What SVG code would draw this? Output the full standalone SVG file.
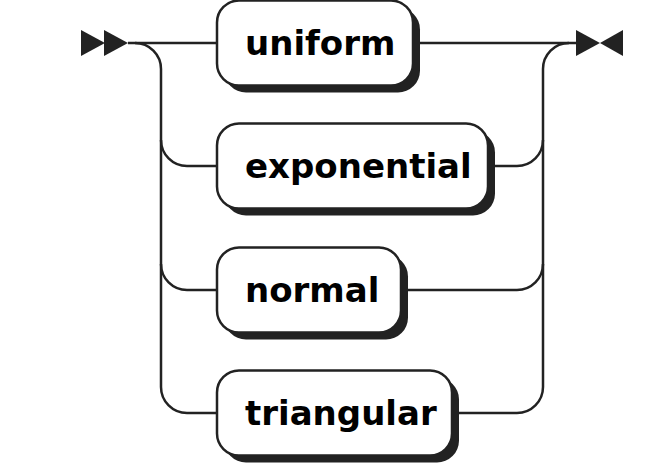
<svg xmlns="http://www.w3.org/2000/svg" width="670" height="471" viewBox="0 0 670 471">
<style>
.line{fill:none;stroke:#222;stroke-width:2.5}
.arrow{fill:#222;stroke:none}
.shadow{fill:#222;stroke:none}
.box{fill:#fff;stroke:#222;stroke-width:2.5}
.label{font-family:"DejaVu Sans",sans-serif;font-weight:bold;font-size:34px;fill:#000}
</style>
<rect width="670" height="471" fill="#fff"/>
<g id="connectors">
<path class="line" d="M128,43 H217"/>
<path class="line" d="M135,43 A26,26 0 0 1 161,69 V387 A26,26 0 0 0 187,413 H217"/>
<path class="line" d="M161,140 A26,26 0 0 0 187,166 H217"/>
<path class="line" d="M161,264 A26,26 0 0 0 187,290 H217"/>
<path class="line" d="M413,43 H578"/>
<path class="line" d="M452,413 H517 A26,26 0 0 0 543,387 V69 A26,26 0 0 1 569,43"/>
<path class="line" d="M488,166 H517 A26,26 0 0 0 543,140"/>
<path class="line" d="M401,290 H517 A26,26 0 0 0 543,264"/>
</g>
<g id="start">
<polygon class="arrow" points="81,30 105,43 81,56"/>
<polygon class="arrow" points="104,30 128,43 104,56"/>
</g>
<g id="end">
<polygon class="arrow" points="576,30 600,43 576,56"/>
<polygon class="arrow" points="623,30 600,43 623,56"/>
</g>
<g id="uniform">
<rect class="shadow" x="224" y="7.5" width="196" height="85" rx="22"/>
<rect class="box" x="217" y="0.5" width="196" height="85" rx="22"/>
<text class="label" x="245" y="55">uniform</text>
</g>
<g id="exponential">
<rect class="shadow" x="224" y="130.5" width="271" height="85" rx="22"/>
<rect class="box" x="217" y="123.5" width="271" height="85" rx="22"/>
<text class="label" x="245" y="178">exponential</text>
</g>
<g id="normal">
<rect class="shadow" x="224" y="254.5" width="184" height="85" rx="22"/>
<rect class="box" x="217" y="247.5" width="184" height="85" rx="22"/>
<text class="label" x="245" y="302">normal</text>
</g>
<g id="triangular">
<rect class="shadow" x="224" y="377.5" width="235" height="85" rx="22"/>
<rect class="box" x="217" y="370.5" width="235" height="85" rx="22"/>
<text class="label" x="245" y="425">triangular</text>
</g>
</svg>
